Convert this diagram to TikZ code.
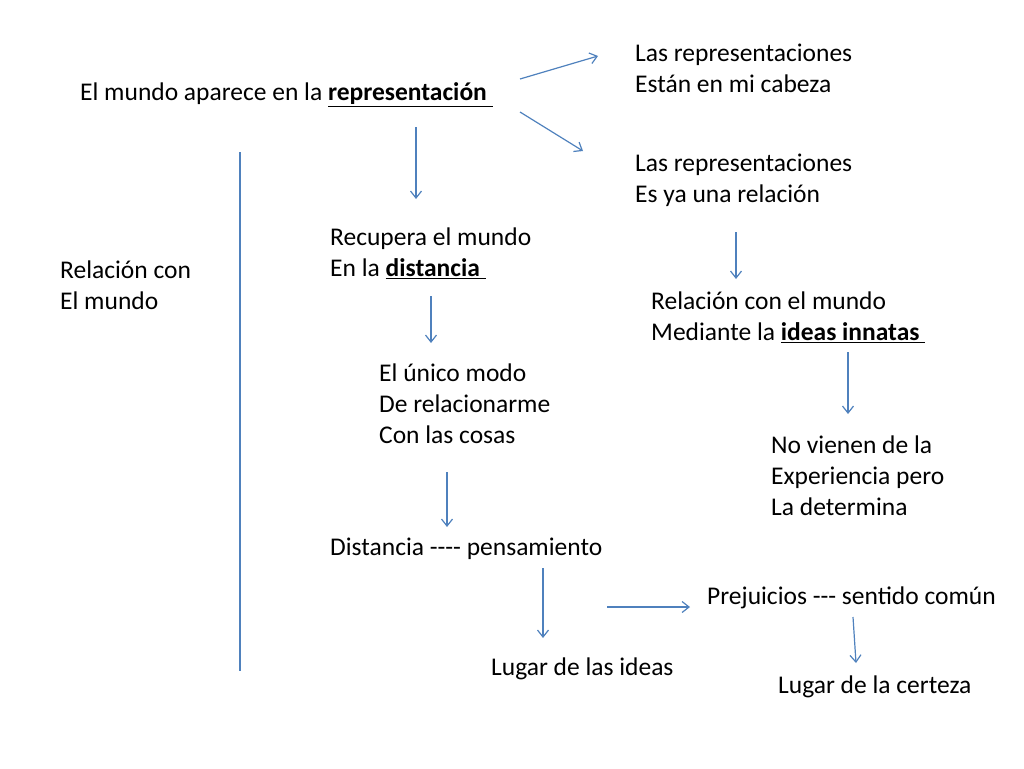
\documentclass[tikz,border=0pt]{standalone}
\usepackage{fontspec}
\setmainfont{Carlito}
\usetikzlibrary{arrows.meta}
\definecolor{arr}{HTML}{4F81BD}
\newcommand{\ul}[1]{\underline{\textbf{#1}\ }}
\tikzset{
  txt/.style={anchor=west,align=left,inner sep=0pt,font=\fontsize{25.5}{31}\selectfont},
  conn/.style={draw=arr,line width=1.2pt,-{Straight Barb[length=7pt,width=11pt]}}
}
\begin{document}
\begin{tikzpicture}[x=1pt,y=-1pt]
\useasboundingbox (0,0) rectangle (1024,768);
\node[txt] (t1) at (80,95) {El mundo aparece en la \ul{representación}};
\node[txt] (t2) at (635,68) {Las representaciones\\Están en mi cabeza};
\node[txt] (t3) at (635,180) {Las representaciones\\Es ya una relación};
\node[txt] (t4) at (330,253) {Recupera el mundo\\En la \ul{distancia}};
\node[txt] (t5) at (60,285) {Relación con\\El mundo};
\node[txt] (t6) at (651,317) {Relación con el mundo\\Mediante la \ul{ideas innatas}};
\node[txt] (t7) at (379,404) {El único modo\\De relacionarme\\Con las cosas};
\node[txt] (t8) at (771,476) {No vienen de la\\Experiencia pero\\La determina};
\node[txt] (t9) at (330,549) {Distancia -{}-{}-{}- pensamiento};
\node[txt] (t10) at (707,598) {Prejuicios -{}-{}- sentido común};
\node[txt] (t11) at (491,669) {Lugar de las ideas};
\node[txt] (t12) at (778,687) {Lugar de la certeza};
\coordinate (a1) at (520,79); \coordinate (b1) at (598,56);
\coordinate (a2) at (520,112); \coordinate (b2) at (583,151);
\coordinate (a3) at (416,127); \coordinate (b3) at (416,199);
\coordinate (a4) at (736,232); \coordinate (b4) at (736,279);
\coordinate (a5) at (431,296); \coordinate (b5) at (431,343);
\coordinate (a6) at (848,352); \coordinate (b6) at (848,414);
\coordinate (a7) at (447,472); \coordinate (b7) at (447,527);
\coordinate (a8) at (543,568); \coordinate (b8) at (543,638);
\coordinate (a9) at (607,607); \coordinate (b9) at (690,607);
\coordinate (a10) at (853,617); \coordinate (b10) at (856,663);
\coordinate (v1) at (240,152); \coordinate (v2) at (240,671);
\foreach \i in {1,...,10} {\draw[conn] (a\i) -- (b\i);}
\draw[draw=arr,line width=1.2pt] (v1) -- (v2);
\end{tikzpicture}
\end{document}
